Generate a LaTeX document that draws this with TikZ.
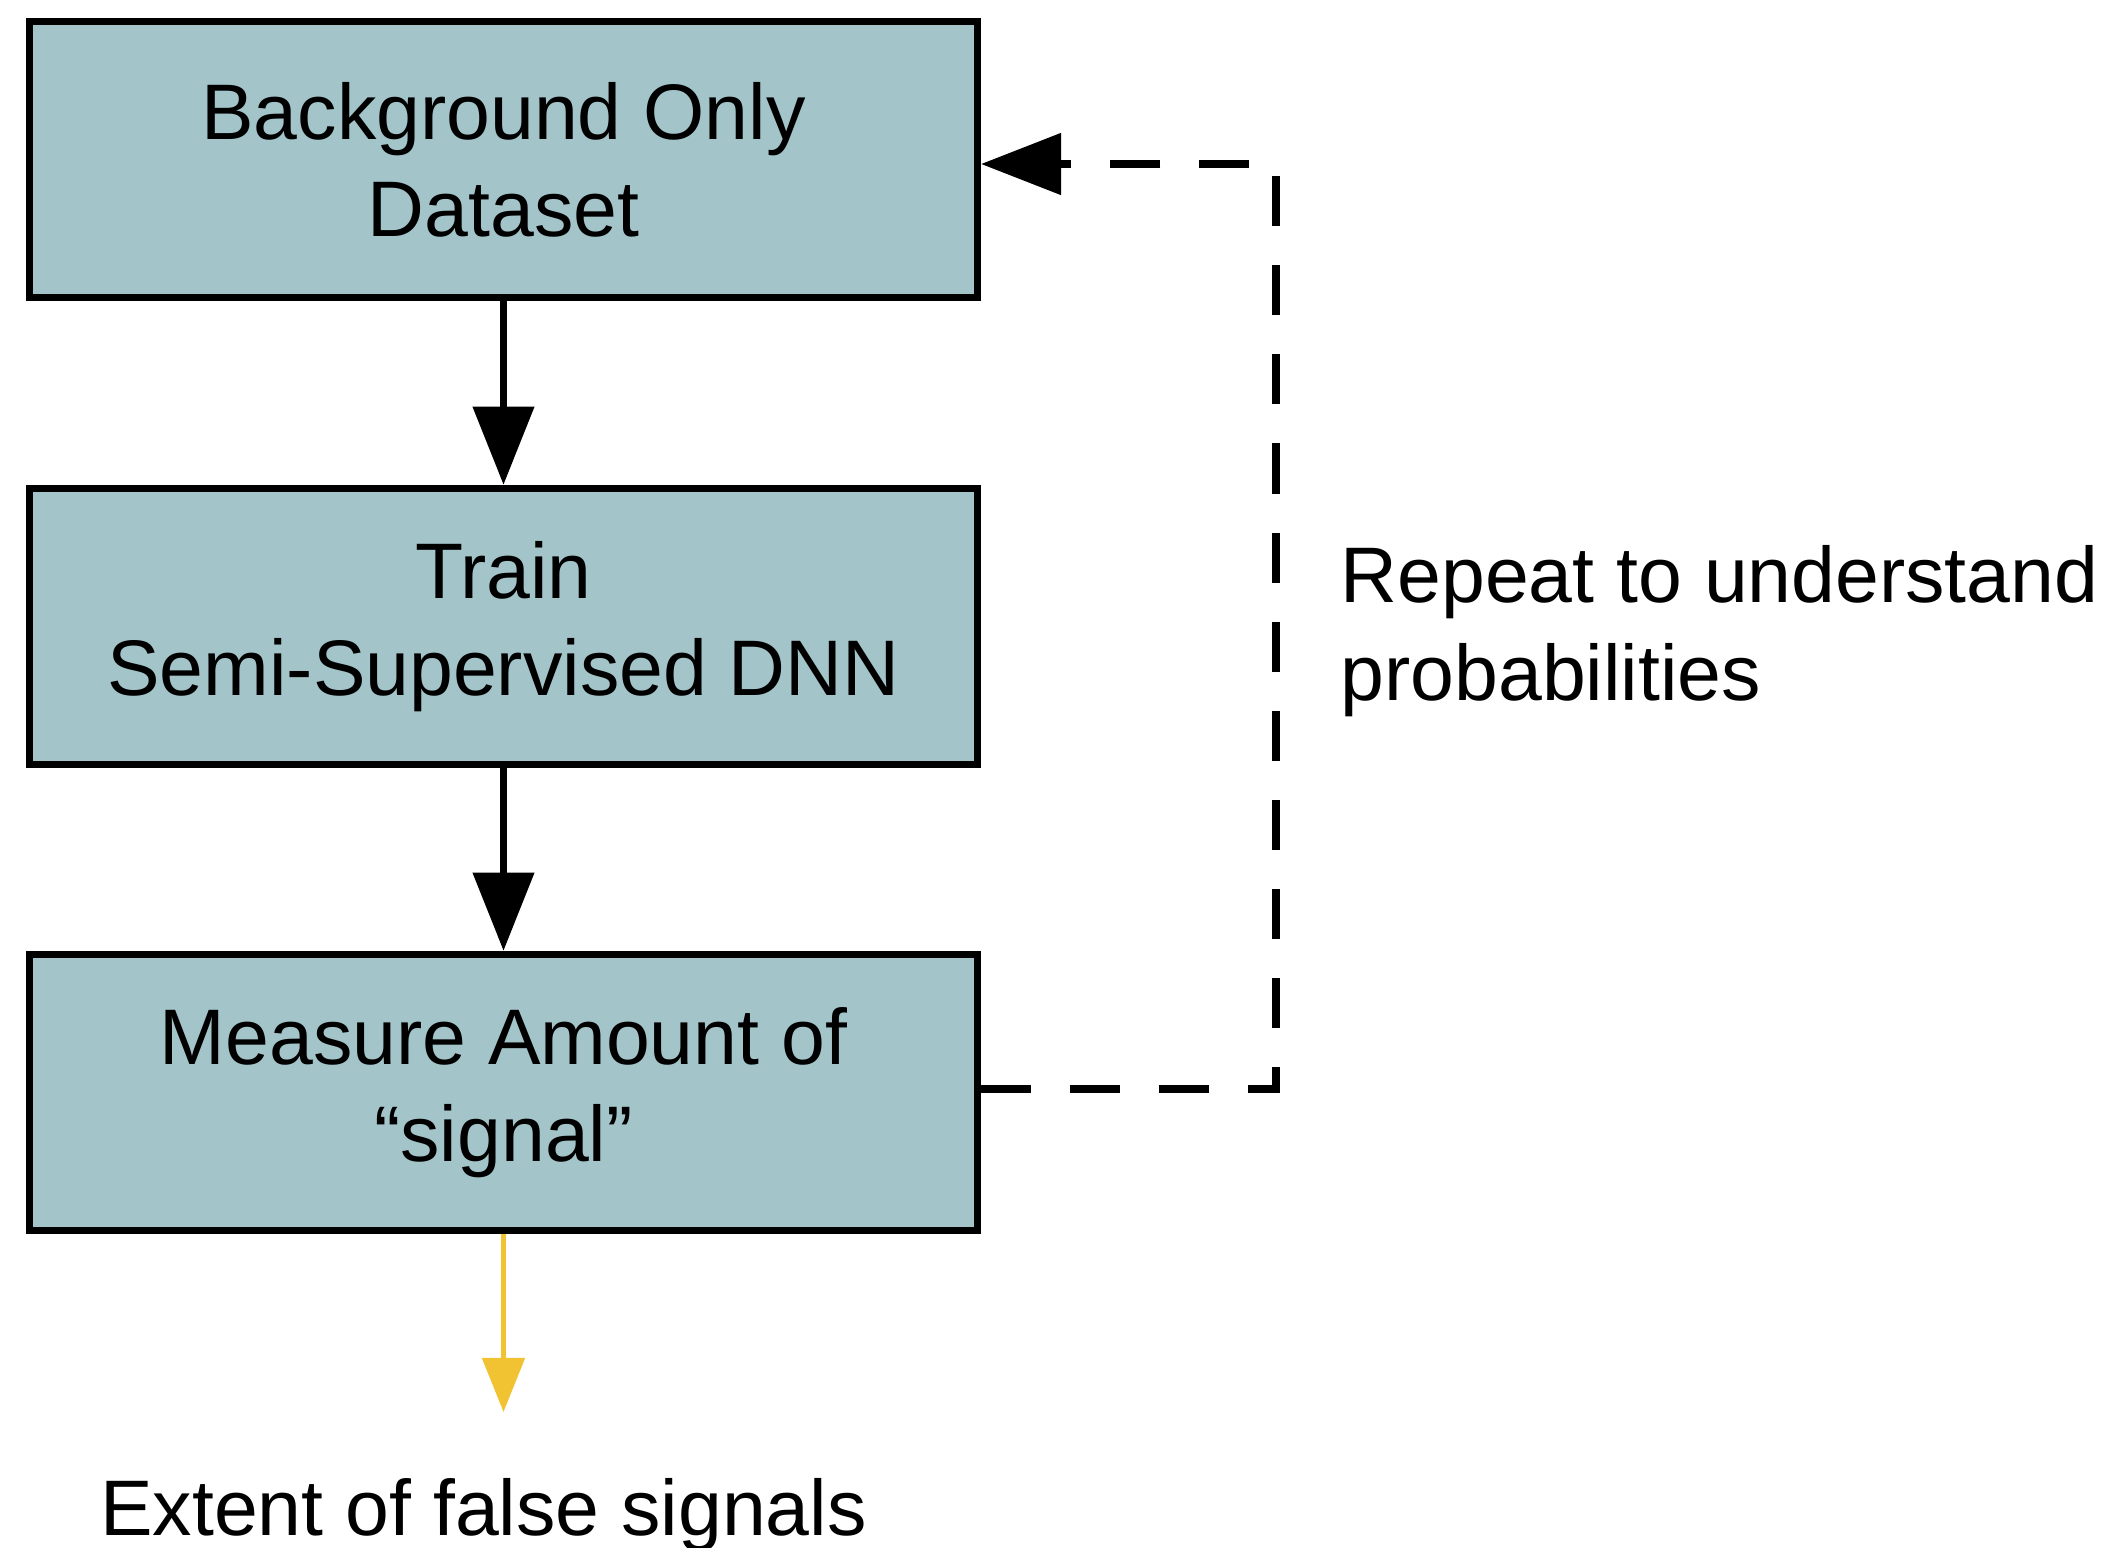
\documentclass[tikz,border=0pt]{standalone}
\usepackage{fontspec}
\setmainfont{Liberation Sans}
\usetikzlibrary{arrows.meta}
\definecolor{boxfill}{RGB}{163,196,201}
\definecolor{flowyellow}{RGB}{241,194,50}
\begin{document}
\begin{tikzpicture}[x=0.01cm,y=-0.01cm,
  stage/.style={draw=black, line width=2.1pt, fill=boxfill,
    minimum width=9.47cm, minimum height=2.76cm, inner sep=0pt,
    align=center, font=\fontsize{22.4pt}{27.6pt}\selectfont},
  flow/.style={line width=2.1pt, -{Triangle[length=0.78cm,width=0.6cm]}},
  loopback/.style={line width=2.3pt, dash pattern=on 0.5cm off 0.39cm,
    -{Triangle[length=0.8cm,width=0.6cm]}},
  outcome/.style={draw=flowyellow, line width=1.4pt,
    -{Triangle[length=0.54cm,width=0.42cm,fill=flowyellow]}},
  note/.style={font=\fontsize{22.4pt}{27.6pt}\selectfont, inner sep=0pt}]
  \useasboundingbox (0,0) rectangle (2111,1548);

  % process stages
  \node[stage] (data)    at (503.5,159.5)  {Background Only\\Dataset};
  \node[stage] (train)   at (503.5,626.5)  {Train\\Semi-Supervised DNN};
  \node[stage] (measure) at (503.5,1092.5) {Measure Amount of\\“signal”};

  % main flow
  \draw[flow] (data.south) -- (train.north);
  \draw[flow] (train.south) -- (measure.north);

  % repeat loop back to the dataset
  \coordinate (loopbot) at (1276,1089);
  \coordinate (looptop) at (1276,164);
  \draw[loopback] (measure.east |- loopbot) -- (loopbot) -- (looptop) -- (data.east |- looptop);

  \node[note, anchor=base west, align=left] (repeat) at (1340,700)
    {Repeat to understand\\probabilities};

  % result
  \coordinate (resulttip) at (503.5,1412);
  \draw[outcome] (measure.south) -- (resulttip);
  \node[note, anchor=base] (result) at (483.5,1535) {Extent of false signals};
\end{tikzpicture}
\end{document}
